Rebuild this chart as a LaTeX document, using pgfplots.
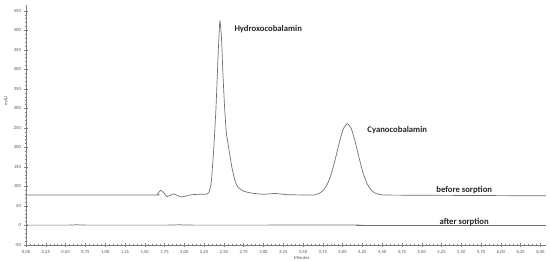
\documentclass[border=0pt]{standalone}
\usepackage{fontspec}
\setmainfont{Carlito}
\usepackage{pgfplots}
\pgfplotsset{compat=1.18}
\definecolor{tr}{HTML}{707070}
\definecolor{ax}{HTML}{7F7F7F}
\definecolor{tk}{HTML}{555555}
\begin{document}
\begin{tikzpicture}
\begin{axis}[
  at={(0,0)}, anchor=south west,
  scale only axis, width=520bp, height=240bp,
  xmin=0, xmax=6.57, ymin=-50, ymax=565,
  axis x line*=bottom, axis y line*=left,
  axis line style={-, ax, line width=0.6pt},
  xtick={0,0.25,...,6.5}, minor x tick num=4,
  ytick={-50,0,...,550}, minor y tick num=4,
  tick align=center,
  major tick length=3bp, minor tick length=1.6bp,
  tick style={ax, line width=0.4pt},
  /pgf/number format/assume math mode=true,
  xticklabel style={font=\fontsize{4.7}{5}\selectfont, text=tk, /pgf/number format/.cd, fixed, fixed zerofill, precision=2, use comma},
  yticklabel style={font=\fontsize{4.7}{5}\selectfont, text=tk, /pgf/number format/.cd, fixed, precision=0},
  xlabel={Minutes}, ylabel={mAU},
  xlabel style={font=\fontsize{4.7}{5}\selectfont, text=tk, at={(axis description cs:0.53,-0.053)}, anchor=center},
  ylabel style={font=\fontsize{4.7}{5}\selectfont, text=tk, at={(axis description cs:-0.0385,0.6)}, anchor=center},
  clip=false,
]
\addplot[tr, line width=0.7pt, smooth, tension=0.3] coordinates {
(0,78) (1.60,78) (1.66,80) (1.70,90) (1.74,84) (1.78,74) (1.83,78) (1.87,81) (1.92,76) (1.97,73) (2.03,76) (2.10,79) (2.20,80) (2.28,80) (2.31,84) (2.34,110) (2.37,190) (2.40,300) (2.43,450) (2.45,524) (2.47,480) (2.49,380) (2.51,300) (2.53,240) (2.56,200) (2.60,150) (2.64,115) (2.68,98) (2.75,88) (2.85,83) (3.00,80) (3.15,82) (3.30,79) (3.60,78) (3.66,79) (3.71,83) (3.76,91) (3.81,107) (3.86,134) (3.91,172) (3.96,214) (4.01,248) (4.06,261) (4.11,248) (4.16,214) (4.21,172) (4.26,134) (4.31,107) (4.36,91) (4.41,83) (4.46,80) (4.55,78) (5.50,77) (6.57,76)
};
\addplot[tr, line width=0.7pt, smooth, tension=0.3] coordinates {
(0,1) (0.55,1) (0.65,2) (0.75,1) (1.80,1) (1.95,2) (2.10,1) (4.20,1) (4.24,0) (6.57,0)
};
\node[font=\fontsize{8.7}{10}\bfseries, anchor=west, text=black!85] at (axis cs:2.59,504) {Hydroxocobalamin};
\node[font=\fontsize{8.7}{10}\bfseries, anchor=west, text=black!85] at (axis cs:4.27,244) {Cyanocobalamin};
\node[font=\fontsize{8.7}{10}\bfseries, anchor=west, text=black!85] at (axis cs:5.14,91) {before sorption};
\node[font=\fontsize{8.7}{10}\bfseries, anchor=west, text=black!85] at (axis cs:5.18,8) {after sorption};
\end{axis}
\pgfresetboundingbox
\path[use as bounding box] (-26bp,-17bp) rectangle (524bp,245bp);
\end{tikzpicture}
\end{document}
